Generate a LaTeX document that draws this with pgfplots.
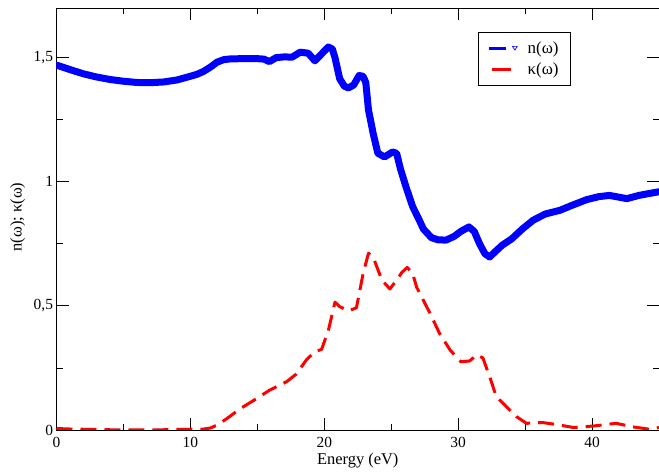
\documentclass[border=0pt]{standalone}
\usepackage{fontspec}
\setmainfont{Liberation Serif}
\usepackage{pgfplots}
\usepackage{pgfplotstable}
\pgfplotsset{compat=1.18}

% refractive index n(omega)
\pgfplotstableread{
E n
0 1.470
1 1.452
2 1.435
3 1.422
4 1.412
5 1.405
6 1.400
7 1.399
8 1.402
9 1.410
10 1.425
10.5 1.433
11 1.445
11.5 1.462
12 1.482
12.5 1.492
13 1.495
14 1.496
15 1.496
15.5 1.494
15.9 1.484
16.4 1.500
17 1.503
17.6 1.502
18.2 1.522
18.8 1.518
19.3 1.487
19.8 1.515
20.3 1.543
20.6 1.535
20.8 1.500
21.15 1.415
21.5 1.385
21.8 1.378
22.2 1.390
22.6 1.428
22.9 1.425
23.1 1.400
23.3 1.290
23.65 1.195
24.0 1.115
24.5 1.100
25.1 1.120
25.4 1.115
25.7 1.050
26.1 0.980
26.6 0.900
27.1 0.845
27.4 0.810
28 0.775
28.5 0.766
29.1 0.765
29.7 0.780
30.2 0.800
30.8 0.818
31.2 0.800
31.6 0.750
32.0 0.710
32.35 0.697
32.8 0.720
33.3 0.745
34 0.770
34.8 0.810
35.6 0.845
36.5 0.870
37.6 0.885
38.5 0.905
39.6 0.928
40.5 0.940
41.3 0.945
42.0 0.938
42.6 0.932
43.5 0.945
44.3 0.953
45 0.960
}\ndata

% extinction coefficient kappa(omega)
\pgfplotstableread{
E k
0 0.006
1 0.004
2 0.003
3 0.002
4 0.001
5 0.001
6 0.000
7 0.000
8 0.001
9 0.002
10 0.003
11 0.004
11.5 0.008
12 0.020
12.7 0.045
13.7 0.085
14.9 0.125
15.9 0.160
17.2 0.195
17.9 0.225
18.7 0.285
19.3 0.315
19.8 0.325
20.3 0.400
20.8 0.515
21.15 0.497
21.8 0.480
22.4 0.492
22.9 0.630
23.3 0.712
23.65 0.697
24.3 0.604
24.9 0.568
25.4 0.604
25.8 0.635
26.2 0.655
26.6 0.630
26.9 0.575
27.9 0.470
28.6 0.390
29.4 0.322
30.2 0.275
30.85 0.278
31.4 0.303
31.85 0.290
32.35 0.215
32.85 0.134
33.6 0.094
34.35 0.054
35.1 0.027
36.3 0.030
37.6 0.020
38.6 0.010
40.1 0.016
41.8 0.027
43.0 0.013
44.3 0.003
45 0.010
}\kdata

\begin{document}
\begin{tikzpicture}[font=\fontsize{15.5}{18}\selectfont]
\begin{axis}[
  name=ax,
  scale only axis, width=602.5bp, height=422bp,
  xmin=0, xmax=45, ymin=0, ymax=1.7,
  xtick={0,10,20,30,40}, minor xtick={5,15,25,35},
  ytick={0,0.5,1,1.5}, minor ytick={0.25,0.75,1.25},
  tick align=inside,
  major tick length=12bp, minor tick length=6bp,
  axis line style={line width=0.8bp},
  every tick/.style={black, line width=0.8bp},
  /pgf/number format/use comma,
  /pgf/number format/assume math mode=true,
  xticklabel style={anchor=base, yshift=-17.5bp},
  yticklabel style={anchor=east},
  xlabel={Energy (eV)},
  ylabel={n(ω); κ(ω)},
  xlabel style={at={(axis description cs:0.5,0)}, anchor=base, yshift=-34bp,
    font=\fontsize{16.5}{19}\selectfont},
  ylabel style={at={(axis description cs:-0.0644,0.505)}, anchor=center,
    font=\fontsize{16.5}{19}\selectfont},
  legend style={at={(axis description cs:0.7,0.943)}, anchor=north west,
    draw=black, line width=0.8bp, fill=white,
    inner xsep=9bp, inner ysep=6.5bp, row sep=1.5bp, column sep=7bp,
    font=\fontsize{17}{20}\selectfont,
    nodes={inner sep=3bp}},
  legend cell align=left,
]
\addplot[blue, line width=7bp, line join=round, line cap=round,
  legend image code/.code={
    \path[draw=none, fill=none] (0bp,-4bp) rectangle (28bp,4bp);
    \draw[blue, solid, line width=2.5bp, line cap=butt] (0bp,0bp) -- (17bp,0bp);
    \draw[blue, solid, line width=0.7bp, line cap=butt] (26bp,-1.6bp) -- (23.6bp,2.2bp) -- (28.4bp,2.2bp) -- cycle;
  }] table[x=E, y=n] {\ndata};
\addlegendentry{n(ω)}
\addplot[red, line width=3bp, dash pattern=on 16bp off 8bp, line join=round,
  legend image code/.code={
    \path[draw=none, fill=none] (0bp,-4bp) rectangle (28bp,4bp);
    \draw[red, solid, line width=2.5bp] (3bp,0bp) -- (22bp,0bp);
  }] table[x=E, y=k] {\kdata};
\addlegendentry{κ(ω)}
\end{axis}
\pgfresetboundingbox
\path ([shift={(-56.5bp,-42bp)}]ax.south west) rectangle ([shift={(0bp,8bp)}]ax.north east);
\end{tikzpicture}
\end{document}
